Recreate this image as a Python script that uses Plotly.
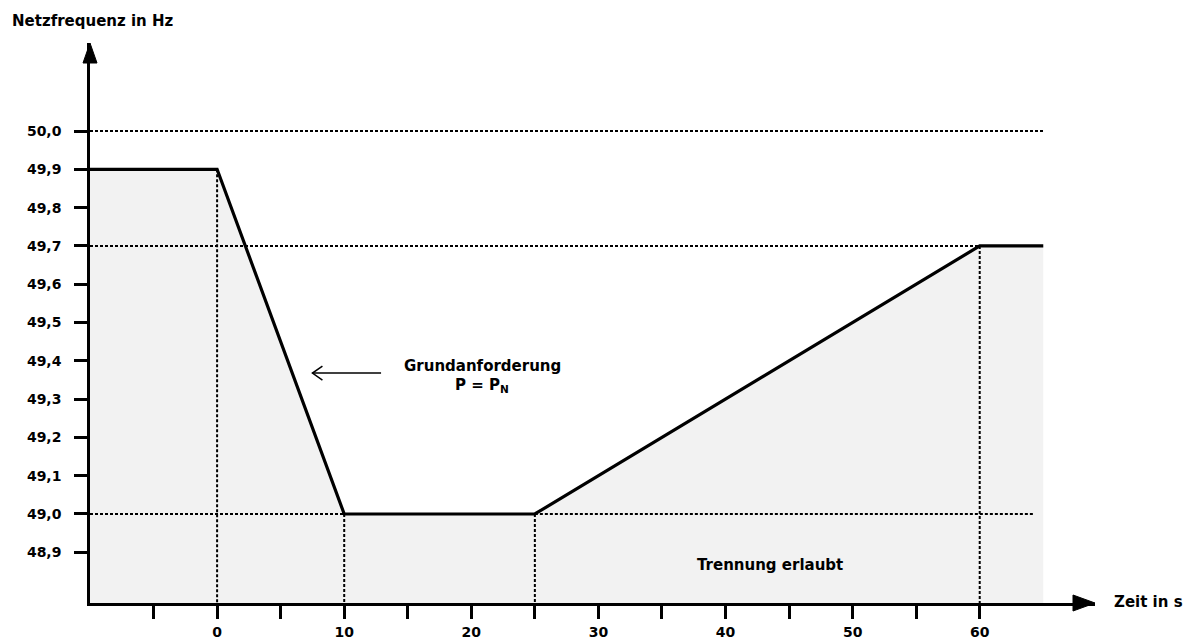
import plotly.graph_objects as go

# ---------------- data ----------------
time_s = [-10, 0, 10, 25, 60, 65]
freq_hz = [49.9, 49.9, 49.0, 49.0, 49.7, 49.7]

# dotted horizontal reference lines: level, start, end
h_level = [50.0, 49.7, 49.0, 49.0]
h_start = [-10, -10, -10, 25]
h_end = [65, 60, 10, 64.2]

# dotted vertical drop lines at the breakpoints
v_time = [0, 10, 25, 60]
v_freq = [49.9, 49.0, 49.0, 49.7]

x_tick_vals = [0, 10, 20, 30, 40, 50, 60]
x_tick_text = ["0", "10", "20", "30", "40", "50", "60"]
x_minor_vals = [-5, 5, 15, 25, 35, 45, 55]
y_tick_vals = [48.9, 49.0, 49.1, 49.2, 49.3, 49.4, 49.5, 49.6, 49.7, 49.8, 49.9, 50.0]
y_tick_text = ["48,9", "49,0", "49,1", "49,2", "49,3", "49,4", "49,5", "49,6", "49,7", "49,8", "49,9", "50,0"]

x_range = [-10, 69.07]
y_range = [48.7676, 50.2298]

FONT = dict(family="DejaVu Sans", size=14, color="black", weight=700)
FONT_TXT = dict(family="DejaVu Sans", size=15, color="black", weight=700)

fig = go.Figure()

# grey area under the curve
fig.add_trace(go.Scatter(x=time_s, y=freq_hz, mode="lines", fill="tozeroy",
                         fillcolor="#f2f2f2", line=dict(width=0, color="rgba(0,0,0,0)"),
                         hoverinfo="skip", showlegend=False))

# dotted horizontal lines
for lv, s, e in zip(h_level, h_start, h_end):
    fig.add_trace(go.Scatter(x=[s, e], y=[lv, lv], mode="lines",
                             line=dict(color="black", width=2, dash="3px,2px"),
                             hoverinfo="skip", showlegend=False))
# dotted vertical lines
for t, f in zip(v_time, v_freq):
    fig.add_trace(go.Scatter(x=[t, t], y=[f, y_range[0]], mode="lines",
                             line=dict(color="black", width=2, dash="3px,2px"),
                             hoverinfo="skip", showlegend=False))

# main curve
fig.add_trace(go.Scatter(x=time_s, y=freq_hz, mode="lines",
                         line=dict(color="black", width=3.2),
                         hoverinfo="skip", showlegend=False))

fig.update_layout(
    width=1194, height=641, autosize=False,
    margin=dict(l=90, r=99, t=43, b=38, autoexpand=False),
    paper_bgcolor="white", plot_bgcolor="white",
    showlegend=False,
    xaxis=dict(range=x_range, showgrid=False, zeroline=False, automargin=False,
               showline=True, linecolor="black", linewidth=2.5,
               ticks="outside", ticklen=13, tickwidth=2.5, tickcolor="black",
               tickvals=x_tick_vals, ticktext=x_tick_text,
               minor=dict(tickvals=x_minor_vals, ticks="outside", ticklen=13,
                          tickwidth=2.5, tickcolor="black", showgrid=False),
               tickfont=FONT, ticklabelstandoff=1),
    yaxis=dict(range=y_range, showgrid=False, zeroline=False, automargin=False,
               showline=True, linecolor="black", linewidth=2.5,
               ticks="outside", ticklen=13, tickwidth=2.5, tickcolor="black",
               tickvals=y_tick_vals, ticktext=y_tick_text,
               tickfont=FONT, ticklabelstandoff=10),
)

# arrow heads of the axes
fig.add_shape(type="path", xref="paper", yref="paper", xsizemode="pixel", ysizemode="pixel",
              xanchor=0, yanchor=1, path="M -7,-20 L 0,0 L 7,-20 Z",
              fillcolor="black", line=dict(color="black", width=1))
fig.add_shape(type="path", xref="paper", yref="paper", xsizemode="pixel", ysizemode="pixel",
              xanchor=1, yanchor=0, path="M -22,-8 L 0,0 L -22,8 Z",
              fillcolor="black", line=dict(color="black", width=1))

# arrow pointing at the slope
fig.add_shape(type="line", xref="x", yref="y", x0=7.5, x1=12.9, y0=49.368, y1=49.368,
              line=dict(color="black", width=1.5))
fig.add_shape(type="path", xref="x", yref="y", xsizemode="pixel", ysizemode="pixel",
              xanchor=7.5, yanchor=49.368, path="M 10,7 L 0,0 L 10,-7",
              line=dict(color="black", width=1.5))

# texts (paper coords relative to plot area: x 90..1095 px, y 43..603 px)
fig.add_annotation(xref="paper", yref="paper", x=(10 - 90) / 1005, y=(603 - 21) / 560,
                   xanchor="left", yanchor="middle", text="Netzfrequenz in Hz",
                   showarrow=False, font=FONT_TXT)
fig.add_annotation(xref="paper", yref="paper", x=(1112 - 90) / 1005, y=(603 - 602) / 560,
                   xanchor="left", yanchor="middle", text="Zeit in s",
                   showarrow=False, font=FONT_TXT)
fig.add_annotation(xref="x", yref="y", x=20.85, y=49.386, xanchor="center", yanchor="middle",
                   text="Grundanforderung", showarrow=False, font=FONT_TXT)
fig.add_annotation(xref="x", yref="y", x=20.85, y=49.336, xanchor="center", yanchor="middle",
                   text="P = P<sub>N</sub>", showarrow=False, font=FONT_TXT)
fig.add_annotation(xref="x", yref="y", x=43.5, y=48.867, xanchor="center", yanchor="middle",
                   text="Trennung erlaubt", showarrow=False, font=FONT_TXT)

fig.write_html("out.html",
               config={"responsive": False, "displayModeBar": False},
               post_script="document.body.style.margin='0';document.body.style.overflow='hidden';")
